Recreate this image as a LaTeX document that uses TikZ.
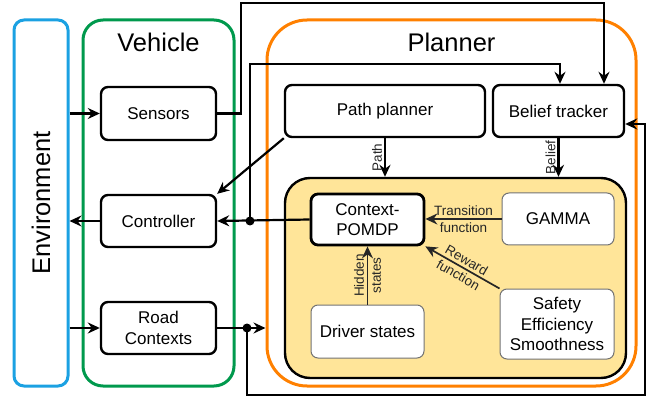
\documentclass[tikz,border=0pt]{standalone}
\usepackage{fontspec}
\setmainfont{Liberation Sans}
\usetikzlibrary{arrows.meta, positioning, calc}

\definecolor{envblue}{HTML}{1BA1E2}
\definecolor{vehgreen}{HTML}{00994D}
\definecolor{planorange}{HTML}{FF8000}
\definecolor{coreyellow}{HTML}{FFE599}

\tikzset{
    container/.style={draw, line width=3pt, rounded corners=#1},
    block/.style={draw, line width=2.4pt, rounded corners=7pt, fill=white,
        font=\fontsize{17}{20.5}\selectfont, align=center},
    softblock/.style={draw=black!55, line width=1pt, rounded corners=7pt, fill=white,
        font=\fontsize{17}{20.5}\selectfont, align=center},
    title/.style={font=\fontsize{25.5}{30}\selectfont},
    arr/.style={-{Stealth[length=12pt,width=11pt,inset=4pt]}, line width=2.2pt},
    thinarr/.style={arr, line width=1.7pt, draw=black!85},
    lab/.style={font=\fontsize{13.5}{17}\selectfont, align=center, text=black!85},
    joint/.style={circle, fill, inner sep=0pt, minimum size=9pt}
}

\begin{document}
\begin{tikzpicture}[x=1pt, y=-1pt]
    \useasboundingbox (0,0) rectangle (654,401);

    % outer groups
    \node (env) [container=10pt, draw=envblue, minimum width=54pt, minimum height=366pt] at (41,203) {};
    \node [title, rotate=90] at (env.center) {Environment};
    \node (vehicle) [container=20pt, draw=vehgreen, minimum width=151pt, minimum height=366pt] at (158.5,203) {};
    \node [title] at (158.5,42) {Vehicle};
    \node (planner) [container=40pt, draw=planorange, minimum width=369pt, minimum height=366pt] at (451.5,203) {};
    \node [title] at (451.5,42) {Planner};

    % vehicle parts
    \node (sensors) [block, minimum width=115pt, minimum height=53pt] at (158.5,113.5) {Sensors};
    \node (controller) [block, minimum width=115pt, minimum height=52pt] at (158.5,221) {Controller};
    \node (road) [block, minimum width=115pt, minimum height=52pt] at (158.5,328) {Road\\Contexts};

    % planner parts
    \node (path) [block, minimum width=200pt, minimum height=52pt] at (385,111) {Path planner};
    \node (belief) [block, minimum width=131pt, minimum height=52pt] at (558.5,111) {Belief tracker};
    \node (core) [draw, line width=2.4pt, rounded corners=25pt, fill=coreyellow,
        minimum width=341pt, minimum height=200pt] at (455.5,278) {};
    \node (pomdp) [block, line width=2.8pt, minimum width=113pt, minimum height=51pt] at (367.5,219.5) {Context-\\POMDP};
    \node (gamma) [softblock, minimum width=112pt, minimum height=52pt] at (558,219) {GAMMA};
    \node (driver) [softblock, minimum width=113pt, minimum height=53pt] at (367.5,331.5) {Driver states};
    \node (safety) [softblock, minimum width=114pt, minimum height=70pt] at (557,324) {Safety\\Efficiency\\Smoothness};

    % joints
    \node (jc) [joint] at (250,221) {};
    \node (jr) [joint] at (247,328) {};
    \coordinate (top) at (241,3);
    \coordinate (low) at (645,395);

    % vehicle links
    \draw[arr] (env.east |- sensors.west) -- (sensors.west);
    \draw[arr] (controller.west) -- (env.east |- controller.west);
    \draw[arr] (env.east |- road.west) -- (road.west);
    \draw[arr] (sensors.east) -| (top) -| ($(belief.north)+(45.5,0)$);
    \draw[arr] (pomdp.west) -- (controller.east);
    \draw[arr] (jc.center) |- ($(belief.north)+(1.5,-20)$) -- ($(belief.north)+(1.5,0)$);
    \draw[arr] (road.east) -- (planner.west |- road.east);
    \draw[arr] (jr.center) |- (low) |- ($(belief.east)+(0,13)$);
    \draw[arr] (path.south west) -- (controller.north east);

    % planner links
    \draw[arr] (path.south) -- node[lab, rotate=90, anchor=south, inner sep=2pt] {Path} (path.south |- core.north);
    \draw[arr] (belief.south) -- node[lab, rotate=90, anchor=south, inner sep=2pt] {Belief} (belief.south |- core.north);
    \draw[thinarr] (gamma.west) -- node[lab] {Transition\\function} (gamma.west -| pomdp.east);
    \draw[thinarr] (safety.north west) -- node[lab, rotate=-30] {Reward\\function} (pomdp.south east);
    \draw[thinarr] (driver.north) -- node[lab, rotate=90] {Hidden\\states} (pomdp.south);
\end{tikzpicture}
\end{document}
